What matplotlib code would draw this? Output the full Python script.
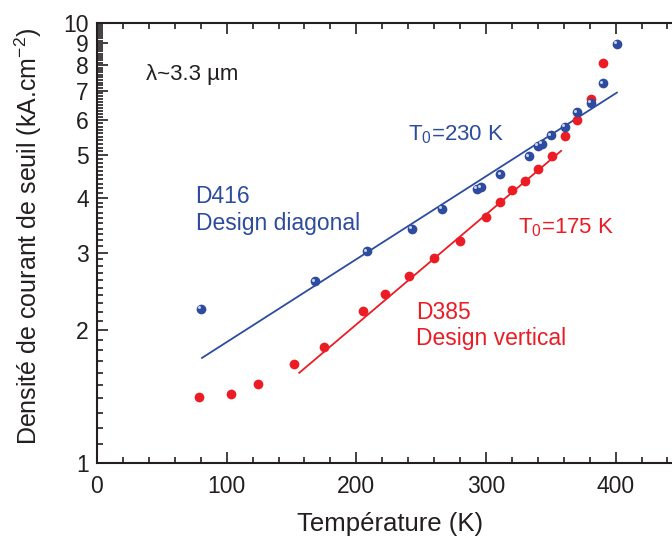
import numpy as np
import matplotlib
matplotlib.use("Agg")
import matplotlib.pyplot as plt
from matplotlib.ticker import FixedLocator, NullFormatter
from matplotlib.transforms import offset_copy

plt.rcParams['font.family'] = ['Liberation Sans', 'DejaVu Sans']
plt.rcParams['mathtext.fontset'] = 'custom'
plt.rcParams['mathtext.rm'] = 'Liberation Sans'

# ---- donnees ----
# D416 (design diagonal)
T_d416 = [80, 168, 208, 243, 266, 293, 296, 311, 333, 340, 343, 350, 361, 370, 381, 390, 401]
J_d416 = [2.24, 2.58, 3.02, 3.40, 3.77, 4.19, 4.22, 4.52, 4.97, 5.25, 5.30, 5.54, 5.79, 6.25, 6.56, 7.27, 8.95]
# D385 (design vertical)
T_d385 = [79, 103, 124, 152, 175, 205, 222, 241, 260, 280, 300, 311, 320, 330, 340, 351, 361, 370, 381, 390]
J_d385 = [1.41, 1.43, 1.51, 1.68, 1.83, 2.21, 2.42, 2.66, 2.91, 3.19, 3.62, 3.92, 4.17, 4.36, 4.64, 4.98, 5.51, 6.01, 6.70, 8.07]

# droites d'ajustement (extremites)
fit_T_d416 = [81, 401]
fit_J_d416 = [1.73, 6.93]
fit_T_d385 = [156, 358]
fit_J_d385 = [1.60, 5.11]

blue = '#2E4C9F'
red = '#EC1C24'
ink = '#231F20'

fig = plt.figure(figsize=(6.72, 5.37), dpi=100)
ax = fig.add_axes([97/672, 0.1384, 586/672, 0.8197])

ax.plot(fit_T_d416, fit_J_d416, color=blue, lw=1.3, zorder=2)
ax.plot(fit_T_d385, fit_J_d385, color=red, lw=1.3, zorder=2)

ax.plot(T_d385, J_d385, 'o', color=red, ms=7, mec='none', zorder=3)
ax.plot(T_d416, J_d416, 'o', color=blue, ms=7, mec='none', zorder=4)
# petit reflet sur les billes bleues
hl = offset_copy(ax.transData, fig=fig, x=-1.6, y=1.6, units='dots')
ax.plot(T_d416, J_d416, 'o', color='#C8D0EA', ms=2.2, mec='none', transform=hl, zorder=5)

ax.set_yscale('log')
ax.set_xlim(0, 452)
ax.set_ylim(1, 10)

ax.xaxis.set_major_locator(FixedLocator([0, 100, 200, 300, 400]))
ax.xaxis.set_minor_locator(FixedLocator(np.arange(0, 452, 20)))
ax.yaxis.set_major_locator(FixedLocator(np.arange(1, 11)))
ax.yaxis.set_minor_locator(FixedLocator(np.arange(1.1, 10, 0.1)))
ax.yaxis.set_minor_formatter(NullFormatter())
ax.set_yticklabels([str(i) for i in range(1, 11)])

ax.tick_params(which='both', direction='in', top=True, right=False, width=1.2, labelsize=16.5, colors=ink)
ax.tick_params(which='major', length=8)
ax.tick_params(axis='x', which='major', pad=9)
ax.tick_params(axis='y', which='major', pad=6)
ax.tick_params(which='minor', length=4.5)
for s in ['left', 'bottom', 'top']:
    ax.spines[s].set_linewidth(1.5)
    ax.spines[s].set_color(ink)
ax.spines['right'].set_visible(False)

ax.set_xlabel('Température (K)', fontsize=18.5, labelpad=10, color=ink)
ax.set_ylabel('Densité de courant de seuil (kA.cm$^{-2}$)', fontsize=18, color=ink)
ax.yaxis.set_label_coords(-0.091, 0.515)

ax.text(38, 7.6, 'λ~3.3 µm', fontsize=16, va='center', ha='left', color=ink)
ax.text(76, 3.75, 'D416\nDesign diagonal', fontsize=16.5, va='center', ha='left', color=blue)
ax.text(246, 2.05, 'D385\nDesign vertical', fontsize=16.5, va='center', ha='left', color=red)
ax.text(240, 5.56, r'T$_\mathregular{0}$=230 K', fontsize=16, va='center', ha='left', color=blue)
ax.text(325, 3.42, r'T$_\mathregular{0}$=175 K', fontsize=16, va='center', ha='left', color=red)

fig.savefig('out.png', dpi=100)
